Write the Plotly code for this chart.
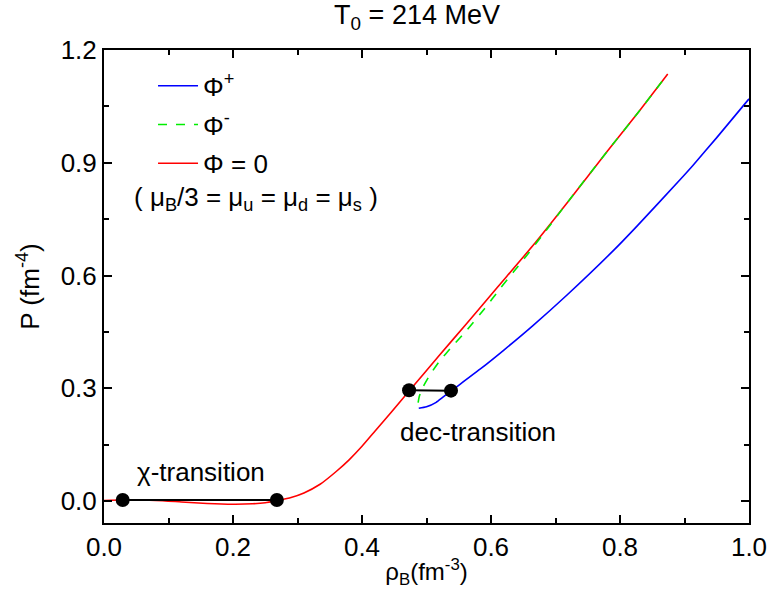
import plotly.graph_objects as go

FONT = "Liberation Sans, Arial"

# Phi = 0 (red)
rho_red = [0.0, 0.03, 0.08, 0.12, 0.16, 0.20, 0.23, 0.25, 0.268, 0.29, 0.31, 0.335, 0.36, 0.38,
           0.40, 0.42, 0.445, 0.473, 0.52, 0.563, 0.61, 0.665, 0.72, 0.78, 0.83, 0.874]
p_red = [0.002, 0.003, 0.002, -0.002, -0.006, -0.008, -0.007, -0.004, 0.002, 0.010, 0.022, 0.045,
         0.079, 0.110, 0.146, 0.186, 0.236, 0.293, 0.388, 0.474, 0.569, 0.680, 0.798, 0.930, 1.038, 1.136]

# Phi- (green dashed)
rho_green = [0.487, 0.489, 0.495, 0.505, 0.52, 0.54, 0.563, 0.59, 0.614, 0.635, 0.656, 0.68,
             0.72, 0.78, 0.83, 0.874]
p_green = [0.262, 0.28, 0.305, 0.335, 0.372, 0.412, 0.456, 0.512, 0.565, 0.610, 0.655, 0.708,
           0.798, 0.930, 1.038, 1.136]

# Phi+ (blue)
rho_blue = [0.488, 0.50, 0.515, 0.525, 0.538, 0.583, 0.62, 0.665, 0.717, 0.79, 0.826, 0.893,
            0.913, 0.95, 1.0]
p_blue = [0.247, 0.251, 0.263, 0.276, 0.293, 0.351, 0.402, 0.467, 0.547, 0.667, 0.731, 0.855,
          0.893, 0.967, 1.070]

# transition points
chi_rho = [0.029, 0.268]
chi_p = [0.003, 0.003]
dec_rho = [0.473, 0.538]
dec_p = [0.295, 0.294]

fig = go.Figure()
fig.add_trace(go.Scatter(x=rho_blue, y=p_blue, mode="lines", name="Φ<sup>+</sup>",
                         legendgroup="a", legendrank=1,
                         line=dict(color="#0000ff", width=1.6, shape="spline", smoothing=0.6)))
fig.add_trace(go.Scatter(x=rho_red, y=p_red, mode="lines", name="Φ = 0",
                         legendgroup="c", legendrank=3,
                         line=dict(color="#ff0000", width=1.6, shape="spline", smoothing=0.6)))
fig.add_trace(go.Scatter(x=rho_green, y=p_green, mode="lines", name="Φ<sup>-</sup>",
                         legendgroup="b", legendrank=2,
                         line=dict(color="#00ee00", width=1.6, dash="dash", shape="spline", smoothing=0.6)))
for xs, ys in [(chi_rho, chi_p), (dec_rho, dec_p)]:
    fig.add_trace(go.Scatter(x=xs, y=ys, mode="lines+markers", showlegend=False,
                             line=dict(color="black", width=2),
                             marker=dict(color="black", size=14)))

axis_common = dict(showline=True, linecolor="black", linewidth=2, mirror="ticks",
                   ticks="inside", ticklen=8, tickwidth=2, tickcolor="black",
                   showgrid=False, zeroline=False, automargin=False,
                   tickfont=dict(family=FONT, size=26, color="black"))

fig.update_xaxes(range=[0, 1.0], dtick=0.2, tickformat=".1f",
                 minor=dict(dtick=0.1, ticks="inside", ticklen=5, tickwidth=2, tickcolor="black"),
                 title=dict(text="ρ<sub>B</sub>(fm<sup>-3</sup>)", standoff=2,
                            font=dict(family=FONT, size=24, color="black")),
                 **axis_common)
fig.update_yaxes(range=[-0.058, 1.2], dtick=0.3, tickformat=".1f",
                 minor=dict(dtick=0.15, ticks="inside", ticklen=5, tickwidth=2, tickcolor="black"),
                 title=dict(text="P (fm<sup>-4</sup>)", standoff=14,
                            font=dict(family=FONT, size=26, color="black")),
                 **axis_common)

fig.add_annotation(x=0.048, y=0.077, text="χ-transition", showarrow=False, xanchor="left",
                   yanchor="middle", font=dict(family=FONT, size=26, color="black"))
fig.add_annotation(x=0.456, y=0.183, text="dec-transition", showarrow=False, xanchor="left",
                   yanchor="middle", font=dict(family=FONT, size=26, color="black"))
fig.add_annotation(x=0.043, y=0.804, xref="x", yref="y",
                   text="( μ<sub>B</sub>/3 = μ<sub>u</sub> = μ<sub>d</sub> = μ<sub>s</sub> )",
                   showarrow=False, xanchor="left", yanchor="middle",
                   font=dict(family=FONT, size=26, color="black"))

fig.update_layout(
    width=768, height=601,
    margin=dict(l=104, r=19, t=50, b=78, autoexpand=False),
    paper_bgcolor="white", plot_bgcolor="white",
    title=dict(text="T<sub>0</sub> = 214 MeV", x=0.543, xanchor="center", y=0.975, yanchor="middle",
               font=dict(family=FONT, size=27, color="black")),
    legend=dict(x=0.076, y=0.974, xanchor="left", yanchor="top", bgcolor="rgba(0,0,0,0)",
                font=dict(family=FONT, size=26, color="black"),
                traceorder="grouped", tracegroupgap=2, itemwidth=40),
    showlegend=True,
)

fig.write_html("out.html")
